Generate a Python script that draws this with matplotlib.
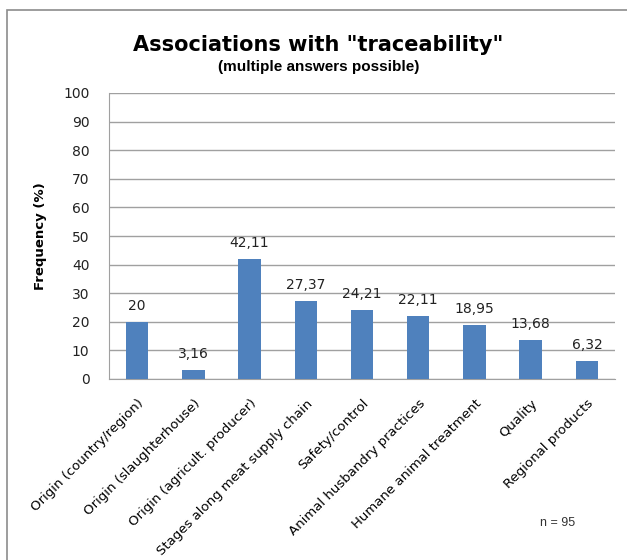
import numpy as np
import matplotlib.pyplot as plt
from matplotlib.patches import Rectangle

# -------- datos --------
categorias = ["Origin (country/region)", "Origin (slaughterhouse)",
              "Origin (agricult. producer)", "Stages along meat supply chain",
              "Safety/control", "Animal husbandry practices",
              "Humane animal treatment", "Quality", "Regional products"]
valores = [20, 3.16, 42.11, 27.37, 24.21, 22.11, 18.95, 13.68, 6.32]
etiquetas = ["20", "3,16", "42,11", "27,37", "24,21", "22,11", "18,95", "13,68", "6,32"]
yticks = list(range(0, 101, 10))

fig = plt.figure(figsize=(6.27, 5.6), dpi=100)
ax = fig.add_axes([109/627, 1 - 379/560, (615 - 109)/627, (379 - 93)/560])

# borde exterior del grafico
fig.patches.append(Rectangle((7/627, -0.02), 1.0, 1 - 10/560 + 0.02,
                             transform=fig.transFigure, fill=False,
                             edgecolor='#8c8c8c', linewidth=1.2))

x = np.arange(len(categorias))
ax.bar(x, valores, width=0.4, color='#4F81BD', zorder=3)

for xi, v, t in zip(x, valores, etiquetas):
    ax.text(xi, v + 3, t, ha='center', va='bottom', fontsize=10, color='#222222')

ax.set_xlim(-0.5, len(categorias) - 0.5)
ax.set_ylim(0, 100)
ax.set_yticks(yticks)
ax.tick_params(axis='y', length=0, pad=14, labelsize=10, labelcolor='#222222')
ax.yaxis.grid(True, color='#a0a0a0', linewidth=1, zorder=0)

ax.set_xticks(x)
ax.set_xticklabels(categorias, rotation=45, ha='right', va='top',
                   rotation_mode='anchor', fontsize=9.5)
ax.tick_params(axis='x', length=0, pad=13)

for s in ['top', 'right']:
    ax.spines[s].set_visible(False)
ax.spines['left'].set_color('#a0a0a0')
ax.spines['bottom'].set_color('#a0a0a0')

ax.set_ylabel("Frequency (%)", fontsize=9.5, fontweight='bold', labelpad=12)

fig.text(318/627, 1 - 45/560, 'Associations with "traceability"',
         ha='center', va='center', fontsize=15, fontweight='bold')
fig.text(319/627, 1 - 67/560, '(multiple answers possible)',
         ha='center', va='center', fontsize=11, fontweight='bold',
         family='Liberation Sans')
fig.text(558/627, 1 - 523/560, 'n = 95', ha='center', va='center',
         fontsize=9, family='Liberation Sans', color='#333333')

plt.savefig("out.png", dpi=100)
